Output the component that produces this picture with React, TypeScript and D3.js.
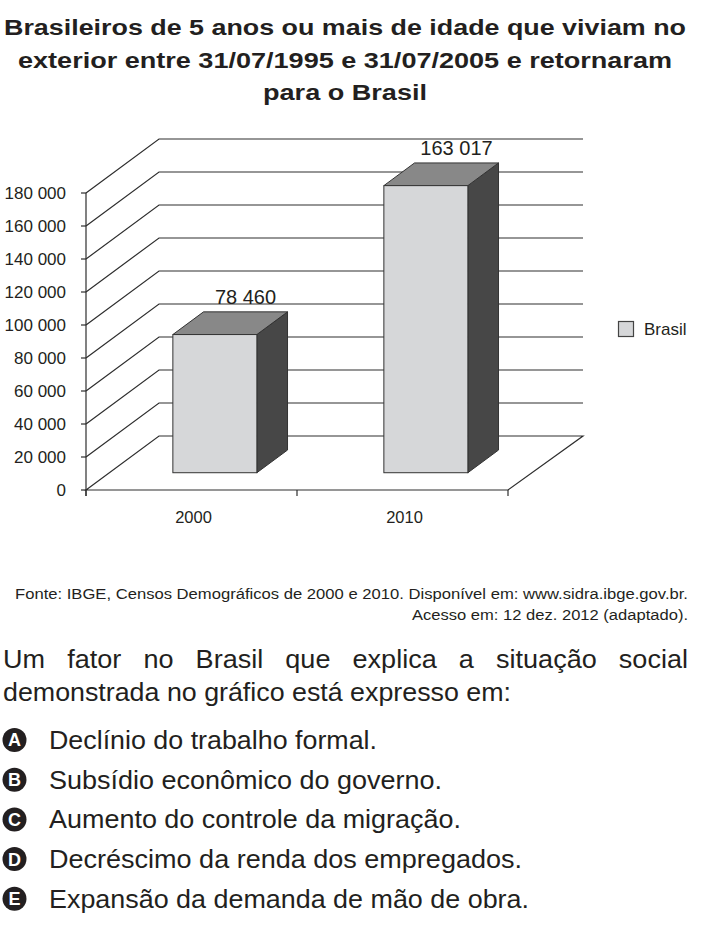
import React, { useEffect, useRef } from "react";
import * as d3 from "d3";

const titleLines = [
  "Brasileiros de 5 anos ou mais de idade que viviam no",
  "exterior entre 31/07/1995 e 31/07/2005 e retornaram",
  "para o Brasil",
];
const titleWidths = [682, 654, 164];
const categories = ["2000", "2010"];
const values = [78460, 163017];
const valueLabels = ["78 460", "163 017"];
const yTicks = [0, 20000, 40000, 60000, 80000, 100000, 120000, 140000, 160000, 180000];
const seriesName = "Brasil";
const sourceLines = [
  "Fonte: IBGE, Censos Demográficos de 2000 e 2010. Disponível em: www.sidra.ibge.gov.br.",
  "Acesso em: 12 dez. 2012 (adaptado).",
];
const sourceWidths = [673, 276];
const questionLines = [
  "Um fator no Brasil que explica a situação social",
  "demonstrada no gráfico está expresso em:",
];
const optionLetters = ["A", "B", "C", "D", "E"];
const optionTexts = [
  "Declínio do trabalho formal.",
  "Subsídio econômico do governo.",
  "Aumento do controle da migração.",
  "Decréscimo da renda dos empregados.",
  "Expansão da demanda de mão de obra.",
];
const optionWidths = [328, 393, 412, 473, 480];

const FONT = "'Liberation Sans', Arial, Helvetica, sans-serif";
const INK = "#231f20";

const App: React.FC = () => {
  const svgRef = useRef<SVGSVGElement | null>(null);

  useEffect(() => {
    if (!svgRef.current) return;
    const svg = d3.select(svgRef.current);
    svg.selectAll("*").remove();

    // title
    svg
      .append("g")
      .selectAll("text")
      .data(titleLines)
      .enter()
      .append("text")
      .attr("x", 345)
      .attr("y", (_, i) => 35 + i * 32.5)
      .attr("text-anchor", "middle")
      .attr("font-family", FONT)
      .attr("font-weight", "bold")
      .attr("font-size", 22.5)
      .attr("fill", INK)
      .attr("textLength", (_, i) => titleWidths[i])
      .attr("lengthAdjust", "spacingAndGlyphs")
      .text((d) => d);

    // 3d chart geometry
    const depth = { dx: 73, dy: -54 };
    const x0 = 86;
    const x1 = 508;
    const y = d3.scaleLinear().domain([0, 180000]).range([490, 193]);
    const x = d3.scaleBand().domain(categories).range([x0, x1]);
    const barH = d3.scaleLinear().domain([0, 180000]).range([0, 317]);
    const barW = 84;
    const t0 = 0.32;
    const t1 = 0.74;

    const chart = svg.append("g");
    const lineColor = "#2e2e2e";

    // gridlines: left wall diagonals + back wall horizontals
    yTicks.forEach((v) => {
      const yy = y(v);
      if (v > 0) {
        chart
          .append("path")
          .attr(
            "d",
            `M${x0},${yy}L${x0 + depth.dx},${yy + depth.dy}L${x1 + depth.dx + 2},${yy + depth.dy}`
          )
          .attr("fill", "none")
          .attr("stroke", lineColor)
          .attr("stroke-width", 1.2);
      }
    });

    // floor
    const yb = y(0);
    chart
      .append("path")
      .attr(
        "d",
        `M${x0},${yb}L${x0 + depth.dx},${yb + depth.dy}L${x1 + depth.dx + 2},${yb + depth.dy}L${x1},${yb}Z`
      )
      .attr("fill", "none")
      .attr("stroke", lineColor)
      .attr("stroke-width", 1.2);

    // y axis
    chart
      .append("line")
      .attr("x1", x0)
      .attr("x2", x0)
      .attr("y1", y(0) + 6)
      .attr("y2", y(180000))
      .attr("stroke", lineColor)
      .attr("stroke-width", 1.2);
    yTicks.forEach((v) => {
      chart
        .append("line")
        .attr("x1", x0 - 5)
        .attr("x2", x0)
        .attr("y1", y(v))
        .attr("y2", y(v))
        .attr("stroke", lineColor)
        .attr("stroke-width", 1.2);
      chart
        .append("text")
        .attr("x", 66)
        .attr("y", y(v))
        .attr("dy", "0.35em")
        .attr("text-anchor", "end")
        .attr("font-family", FONT)
        .attr("font-size", 17)
        .attr("fill", INK)
        .text(d3.format(",")(v).replace(/,/g, " "));
    });

    // x axis ticks
    [x0, ...categories.map((c) => (x(c) as number) + x.bandwidth())].forEach((xx) => {
      chart
        .append("line")
        .attr("x1", xx)
        .attr("x2", xx)
        .attr("y1", yb)
        .attr("y2", yb + 6)
        .attr("stroke", lineColor)
        .attr("stroke-width", 1.2);
    });
    categories.forEach((c) => {
      chart
        .append("text")
        .attr("x", (x(c) as number) + x.bandwidth() / 2 + 2)
        .attr("y", 523)
        .attr("text-anchor", "middle")
        .attr("font-family", FONT)
        .attr("font-size", 16.5)
        .attr("fill", INK)
        .text(c);
    });

    // bars
    categories.forEach((c, i) => {
      const fx = (x(c) as number) + (x.bandwidth() - barW) / 2 + depth.dx * t0;
      const fy = yb + depth.dy * t0;
      const h = barH(values[i]);
      const ddx = depth.dx * (t1 - t0);
      const ddy = depth.dy * (t1 - t0);
      const top = fy - h;
      const bar = chart.append("g");
      bar
        .append("path")
        .attr(
          "d",
          `M${fx + barW},${fy}L${fx + barW + ddx},${fy + ddy}L${fx + barW + ddx},${top + ddy}L${fx + barW},${top}Z`
        )
        .attr("fill", "#474747")
        .attr("stroke", "#333")
        .attr("stroke-width", 1);
      bar
        .append("path")
        .attr(
          "d",
          `M${fx},${top}L${fx + ddx},${top + ddy}L${fx + barW + ddx},${top + ddy}L${fx + barW},${top}Z`
        )
        .attr("fill", "#888888")
        .attr("stroke", "#333")
        .attr("stroke-width", 1);
      bar
        .append("rect")
        .attr("x", fx)
        .attr("y", top)
        .attr("width", barW)
        .attr("height", h)
        .attr("fill", "#d6d7d9")
        .attr("stroke", "#333")
        .attr("stroke-width", 1);
      chart
        .append("text")
        .attr("x", fx + barW / 2 + ddx)
        .attr("y", top + ddy - 8)
        .attr("text-anchor", "middle")
        .attr("font-family", FONT)
        .attr("font-size", 20)
        .attr("fill", INK)
        .text(valueLabels[i]);
    });

    // legend
    chart
      .append("rect")
      .attr("x", 618.5)
      .attr("y", 321.5)
      .attr("width", 15)
      .attr("height", 15)
      .attr("fill", "#d6d7d9")
      .attr("stroke", "#444")
      .attr("stroke-width", 1.2);
    chart
      .append("text")
      .attr("x", 644)
      .attr("y", 335)
      .attr("font-family", FONT)
      .attr("font-size", 17)
      .attr("fill", INK)
      .text(seriesName);

    // source
    svg
      .append("g")
      .selectAll("text")
      .data(sourceLines)
      .enter()
      .append("text")
      .attr("x", 688)
      .attr("y", (_, i) => 599 + i * 20.5)
      .attr("text-anchor", "end")
      .attr("font-family", FONT)
      .attr("font-size", 14)
      .attr("fill", INK)
      .attr("textLength", (_, i) => sourceWidths[i])
      .attr("lengthAdjust", "spacingAndGlyphs")
      .text((d) => d);

    // question text, first line justified
    const qLeft = 3;
    const qRight = 688;
    const qSize = 26;
    questionLines.forEach((line, li) => {
      const yy = 668 + li * 32.5;
      if (li === questionLines.length - 1) {
        svg
          .append("text")
          .attr("x", qLeft)
          .attr("y", yy)
          .attr("font-family", FONT)
          .attr("font-size", qSize)
          .attr("fill", INK)
          .attr("textLength", 508)
          .attr("lengthAdjust", "spacingAndGlyphs")
          .text(line);
        return;
      }
      const words = line.split(" ");
      const nodes = words.map((w) =>
        svg
          .append("text")
          .attr("y", yy)
          .attr("font-family", FONT)
          .attr("font-size", qSize)
          .attr("fill", INK)
          .text(w)
      );
      const widths = nodes.map(
        (n) => (n.node() as SVGTextElement).getComputedTextLength() * 1.04
      );
      nodes.forEach((n, i) =>
        n.attr("textLength", widths[i]).attr("lengthAdjust", "spacingAndGlyphs")
      );
      const total = d3.sum(widths);
      const gap = (qRight - qLeft - total) / (words.length - 1);
      let cx = qLeft;
      nodes.forEach((n, i) => {
        n.attr("x", cx);
        cx += widths[i] + gap;
      });
    });

    // options
    const opts = svg.append("g");
    optionTexts.forEach((t, i) => {
      const yy = 749 + i * 39.7;
      opts
        .append("circle")
        .attr("cx", 14.5)
        .attr("cy", yy - 9)
        .attr("r", 12)
        .attr("fill", INK);
      opts
        .append("text")
        .attr("x", 14.5)
        .attr("y", yy - 9)
        .attr("dy", "0.36em")
        .attr("text-anchor", "middle")
        .attr("font-family", FONT)
        .attr("font-weight", "bold")
        .attr("font-size", 18)
        .attr("fill", "#fff")
        .text(optionLetters[i]);
      opts
        .append("text")
        .attr("x", 49)
        .attr("y", yy)
        .attr("font-family", FONT)
        .attr("font-size", qSize)
        .attr("fill", INK)
        .attr("textLength", optionWidths[i])
        .attr("lengthAdjust", "spacingAndGlyphs")
        .text(t);
    });
  }, []);

  return (
    <svg
      ref={svgRef}
      width={701}
      height={928}
      style={{ position: "absolute", left: 0, top: 0, background: "#fff" }}
    ></svg>
  );
};

export default App;
